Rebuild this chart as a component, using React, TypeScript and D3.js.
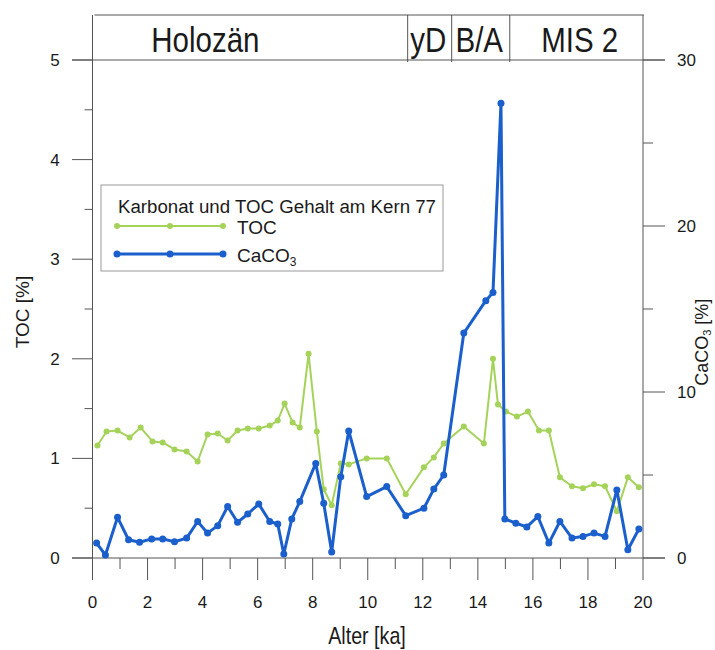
import React from "react";
import * as d3 from "d3";

// ---- data ----
const tocAges = [0.18, 0.51, 0.91, 1.35, 1.75, 2.18, 2.55, 2.98, 3.42, 3.82, 4.18, 4.55, 4.91, 5.27, 5.64, 6.04, 6.44, 6.73, 6.98, 7.27, 7.53, 7.85, 8.15, 8.4, 8.69, 9.02, 9.31, 9.96, 10.69, 11.38, 12.04, 12.4, 12.76, 13.49, 14.22, 14.55, 14.73, 15.02, 15.42, 15.82, 16.22, 16.58, 16.98, 17.42, 17.82, 18.22, 18.62, 19.05, 19.45, 19.85];
const tocValues = [1.13, 1.27, 1.28, 1.21, 1.31, 1.17, 1.16, 1.09, 1.07, 0.97, 1.24, 1.25, 1.18, 1.28, 1.3, 1.3, 1.33, 1.38, 1.55, 1.36, 1.31, 2.05, 1.27, 0.69, 0.53, 0.95, 0.94, 1.0, 1.0, 0.64, 0.91, 1.01, 1.15, 1.32, 1.15, 2.0, 1.54, 1.47, 1.42, 1.47, 1.28, 1.28, 0.81, 0.72, 0.7, 0.74, 0.72, 0.47, 0.81, 0.71];

const caco3Ages = [0.15, 0.47, 0.91, 1.31, 1.71, 2.15, 2.55, 2.98, 3.42, 3.82, 4.18, 4.55, 4.91, 5.27, 5.64, 6.04, 6.44, 6.73, 6.95, 7.24, 7.53, 8.11, 8.4, 8.69, 9.02, 9.31, 9.96, 10.69, 11.38, 12.04, 12.4, 12.76, 13.49, 14.29, 14.55, 14.84, 14.98, 15.38, 15.78, 16.18, 16.58, 16.98, 17.42, 17.82, 18.22, 18.62, 19.05, 19.45, 19.85];
const caco3Values = [0.9, 0.18, 2.45, 1.1, 0.95, 1.15, 1.15, 0.98, 1.2, 2.2, 1.5, 1.95, 3.1, 2.15, 2.65, 3.25, 2.2, 2.05, 0.24, 2.35, 3.4, 5.7, 3.3, 0.36, 4.9, 7.65, 3.7, 4.3, 2.55, 3.0, 4.15, 5.0, 13.55, 15.5, 16.0, 27.4, 2.35, 2.1, 1.87, 2.5, 0.9, 2.2, 1.2, 1.3, 1.5, 1.3, 4.1, 0.5, 1.75];

const xTicks = [0, 2, 4, 6, 8, 10, 12, 14, 16, 18, 20];
const xMinorTicks = [1, 3, 5, 7, 9, 11, 13, 15, 17, 19];
const tocTicks = [0, 1, 2, 3, 4, 5];
const tocMinorTicks = [0.5, 1.5, 2.5, 3.5, 4.5];
const caco3Ticks = [0, 10, 20, 30];
const caco3MinorTicks = [5, 15, 25];

const periodLabels = ["Holozän", "yD", "B/A", "MIS 2"];
const periodBounds = [11.45, 13.05, 15.16];
const periodLabelAt = [4.1, 12.2, 14.05, 17.7];

const legendTitle = "Karbonat und TOC Gehalt am Kern 77";

// ---- styles ----
const GREEN = "#a5d35a";
const BLUE = "#1a5fcb";
const AXIS = "#555";
const FONT = "'Liberation Sans', Arial, Helvetica, sans-serif";

export default function App() {
  const x = d3.scaleLinear().domain([0, 20]).range([92.5, 643]);
  const yL = d3.scaleLinear().domain([0, 5]).range([558, 60]);
  const yR = d3.scaleLinear().domain([0, 30]).range([558, 60]);

  const tocPts = tocAges.map((a, i) => [a, tocValues[i]] as [number, number]);
  const caPts = caco3Ages.map((a, i) => [a, caco3Values[i]] as [number, number]);

  const tocLine = d3.line<[number, number]>().x((d) => x(d[0])).y((d) => yL(d[1]));
  const caLine = d3.line<[number, number]>().x((d) => x(d[0])).y((d) => yR(d[1]));

  const top = 15;
  const x0 = x(0);
  const x1 = x(20);

  const narrow = (cx: number, cy: number, size: number, text: string, key?: string) => (
    <text
      key={key}
      transform={`translate(${cx},${cy}) scale(0.82,1)`}
      textAnchor="middle"
      fontSize={size}
      fontFamily={FONT}
      fill="#1a1a1a"
    >
      {text}
    </text>
  );

  // legend geometry
  const lgX = 101;
  const lgY = 185;
  const lgW = 342;
  const lgH = 86;

  return (
    <svg
      width={715}
      height={650}
      style={{ position: "absolute", left: 0, top: 0, background: "#fff" }}
      fontFamily={FONT}
    >
      <rect x={0} y={0} width={715} height={650} fill="#fff" />

      {/* header box */}
      <line x1={x0 + 2} x2={x1 + 1} y1={top} y2={top} stroke={AXIS} strokeWidth={1} />
      {periodBounds.map((b, i) => (
        <line key={"pb" + i} x1={x(b)} x2={x(b)} y1={top} y2={62} stroke={AXIS} strokeWidth={1} />
      ))}
      {periodLabels.map((l, i) => narrow(x(periodLabelAt[i]), 52, 36, l, "pl" + i))}

      {/* frame */}
      <line x1={x0} x2={x0} y1={top} y2={558} stroke={AXIS} strokeWidth={1} />
      <line x1={x1} x2={x1} y1={top} y2={558} stroke={AXIS} strokeWidth={1} />
      <line x1={72} x2={665} y1={yL(5)} y2={yL(5)} stroke={AXIS} strokeWidth={1} />
      <line x1={72} x2={665} y1={558} y2={558} stroke={AXIS} strokeWidth={1} />

      {/* left axis */}
      {tocTicks.map((t) => (
        <g key={"lt" + t}>
          <line x1={72} x2={x0} y1={yL(t)} y2={yL(t)} stroke={AXIS} strokeWidth={1} />
          <text x={55} y={yL(t) + 6} textAnchor="middle" fontSize={17} fill="#1a1a1a">
            {t}
          </text>
        </g>
      ))}
      {tocMinorTicks.map((t) => (
        <line key={"lm" + t} x1={x0 - 8} x2={x0} y1={yL(t)} y2={yL(t)} stroke={AXIS} strokeWidth={1} />
      ))}
      <text
        transform={`translate(29,${yL(2.5) + 3}) rotate(-90)`}
        textAnchor="middle"
        fontSize={19}
        fill="#1a1a1a"
      >
        TOC [%]
      </text>

      {/* right axis */}
      {caco3Ticks.map((t) => (
        <g key={"rt" + t}>
          <line x1={x1} x2={665} y1={yR(t)} y2={yR(t)} stroke={AXIS} strokeWidth={1} />
          <text x={677} y={yR(t) + 6} textAnchor="start" fontSize={17} fill="#1a1a1a">
            {t}
          </text>
        </g>
      ))}
      {caco3MinorTicks.map((t) => (
        <line key={"rm" + t} x1={x1} x2={x1 + 10} y1={yR(t)} y2={yR(t)} stroke={AXIS} strokeWidth={1} />
      ))}
      <text
        transform={`translate(708,${yR(13)}) rotate(-90)`}
        textAnchor="middle"
        fontSize={18}
        fill="#1a1a1a"
      >
        CaCO
        <tspan fontSize={11} dy={3}>3</tspan>
        <tspan dy={-3}> [%]</tspan>
      </text>

      {/* bottom axis */}
      {xTicks.map((t) => (
        <g key={"xt" + t}>
          <line x1={x(t)} x2={x(t)} y1={558} y2={580} stroke={AXIS} strokeWidth={1} />
          <text x={x(t)} y={608} textAnchor="middle" fontSize={17} fill="#1a1a1a">
            {t}
          </text>
        </g>
      ))}
      {xMinorTicks.map((t) => (
        <line key={"xm" + t} x1={x(t)} x2={x(t)} y1={558} y2={569} stroke={AXIS} strokeWidth={1} />
      ))}
      {narrow(367, 644, 24, "Alter [ka]", "xl")}

      {/* series */}
      <path d={tocLine(tocPts) || ""} fill="none" stroke={GREEN} strokeWidth={2} strokeLinejoin="round" />
      {tocPts.map((d, i) => (
        <circle key={"tp" + i} cx={x(d[0])} cy={yL(d[1])} r={3} fill={GREEN} />
      ))}
      <path d={caLine(caPts) || ""} fill="none" stroke={BLUE} strokeWidth={3} strokeLinejoin="round" />
      {caPts.map((d, i) => (
        <circle key={"cp" + i} cx={x(d[0])} cy={yR(d[1])} r={3.5} fill={BLUE} />
      ))}

      {/* legend */}
      <rect x={lgX} y={lgY} width={lgW} height={lgH} fill="#fff" stroke="#999" strokeWidth={1} />
      <text x={118} y={213} fontSize={18} fill="#1a1a1a" textLength={318} lengthAdjust="spacingAndGlyphs">
        {legendTitle}
      </text>
      <line x1={117} x2={223} y1={226} y2={226} stroke={GREEN} strokeWidth={2} />
      {[117, 170, 223].map((cx) => (
        <circle key={"lg" + cx} cx={cx} cy={226} r={3} fill={GREEN} />
      ))}
      <text x={237} y={234} fontSize={19} fill="#1a1a1a">TOC</text>
      <line x1={117} x2={223} y1={254} y2={254} stroke={BLUE} strokeWidth={3} />
      {[117, 170, 223].map((cx) => (
        <circle key={"lb" + cx} cx={cx} cy={254} r={3.5} fill={BLUE} />
      ))}
      <text x={237} y={262} fontSize={19} fill="#1a1a1a">
        CaCO<tspan fontSize={12} dy={4}>3</tspan>
      </text>
    </svg>
  );
}
